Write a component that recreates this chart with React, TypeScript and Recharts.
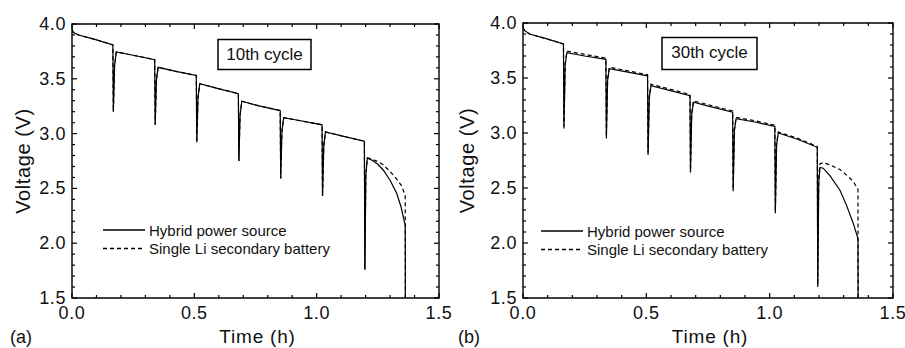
import React from 'react';
import { LineChart, Line, XAxis, YAxis, ReferenceArea, Legend } from 'recharts';

// ---- tick values ----
const xTicks = [0, 0.1, 0.2, 0.3, 0.4, 0.5, 0.6, 0.7, 0.8, 0.9, 1.0, 1.1, 1.2, 1.3, 1.4, 1.5];
const yTicks = [1.5, 1.6, 1.7, 1.8, 1.9, 2.0, 2.1, 2.2, 2.3, 2.4, 2.5, 2.6, 2.7, 2.8, 2.9, 3.0, 3.1, 3.2, 3.3, 3.4, 3.5, 3.6, 3.7, 3.8, 3.9, 4.0];
const seriesNames = ['Hybrid power source', 'Single Li secondary battery'];

// ---- (a) 10th cycle ----
const timeA = [
  0, 0.005, 0.026, 0.09, 0.167,
  0.169, 0.174, 0.181, 0.25, 0.338,
  0.340, 0.345, 0.352, 0.42, 0.508,
  0.510, 0.515, 0.522, 0.59, 0.680,
  0.682, 0.687, 0.694, 0.76, 0.851,
  0.853, 0.858, 0.865, 0.94, 1.022,
  1.024, 1.029, 1.036, 1.11, 1.195,
  1.197, 1.201,
  1.207, 1.22, 1.25, 1.272, 1.30, 1.327, 1.345, 1.362, 1.3625,
];
const hybridA = [
  3.95, 3.925, 3.90, 3.862, 3.81,
  3.20, 3.62, 3.745, 3.715, 3.675,
  3.08, 3.49, 3.605, 3.57, 3.53,
  2.92, 3.33, 3.455, 3.415, 3.365,
  2.75, 3.17, 3.295, 3.255, 3.21,
  2.59, 3.02, 3.145, 3.115, 3.08,
  2.43, 2.89, 3.015, 2.975, 2.93,
  1.76, 2.62,
  2.775, 2.765, 2.72, 2.668, 2.575, 2.455, 2.33, 2.16, 1.5,
];
const singleA = [
  3.95, 3.925, 3.90, 3.862, 3.81,
  3.20, 3.62, 3.745, 3.715, 3.675,
  3.08, 3.49, 3.605, 3.57, 3.53,
  2.92, 3.33, 3.455, 3.415, 3.365,
  2.75, 3.17, 3.295, 3.255, 3.21,
  2.59, 3.02, 3.145, 3.115, 3.08,
  2.43, 2.89, 3.015, 2.975, 2.93,
  1.76, 2.62,
  2.78, 2.772, 2.745, 2.715, 2.655, 2.585, 2.53, 2.44, 1.5,
];

// ---- (b) 30th cycle ----
const timeB = [
  0, 0.005, 0.026, 0.09, 0.164,
  0.166, 0.171, 0.178, 0.25, 0.336,
  0.338, 0.343, 0.350, 0.42, 0.505,
  0.507, 0.512, 0.519, 0.59, 0.677,
  0.679, 0.684, 0.691, 0.76, 0.850,
  0.852, 0.857, 0.864, 0.94, 1.021,
  1.023, 1.028, 1.035, 1.11, 1.193,
  1.195, 1.199,
  1.204, 1.217, 1.245, 1.285, 1.312, 1.339, 1.358, 1.3585,
];
const hybridB = [
  3.96, 3.935, 3.90, 3.86, 3.81,
  3.04, 3.62, 3.73, 3.70, 3.67,
  2.95, 3.48, 3.585, 3.555, 3.52,
  2.80, 3.32, 3.43, 3.39, 3.34,
  2.64, 3.17, 3.28, 3.24, 3.19,
  2.47, 3.02, 3.13, 3.10, 3.06,
  2.27, 2.89, 3.00, 2.945, 2.87,
  1.60, 2.55,
  2.687, 2.68, 2.61, 2.48, 2.34, 2.178, 2.04, 1.5,
];
const singleB = [
  3.96, 3.935, 3.90, 3.86, 3.81,
  3.06, 3.63, 3.745, 3.715, 3.68,
  2.97, 3.49, 3.598, 3.567, 3.53,
  2.82, 3.33, 3.443, 3.402, 3.35,
  2.66, 3.18, 3.292, 3.252, 3.20,
  2.49, 3.03, 3.142, 3.112, 3.07,
  2.29, 2.90, 3.008, 2.955, 2.878,
  1.62, 2.60,
  2.72, 2.73, 2.71, 2.668, 2.617, 2.56, 2.487, 1.5,
];

const FONT = '"Liberation Sans", Arial, Helvetica, sans-serif';

const buildRows = (t: number[], h: number[], s: number[]) =>
  t.map((v, i) => ({ t: v, hybrid: h[i], single: s[i] }));

const isMajor = (v: number) => Math.abs(v * 2 - Math.round(v * 2)) < 1e-6;

const makeXTick = (top: number) => (props: any) => {
  const { x, y, payload } = props;
  const v = payload.value as number;
  const major = isMajor(v);
  const len = major ? 5 : 3;
  return (
    <g>
      <line x1={x} x2={x} y1={y} y2={y - len} stroke="#000" strokeWidth={1.2} />
      <line x1={x} x2={x} y1={top} y2={top + len} stroke="#000" strokeWidth={1.2} />
      {major && (
        <text x={x} y={y + 21} textAnchor="middle" fontSize={18} fontFamily={FONT} letterSpacing={0.6} fill="#111">
          {v.toFixed(1)}
        </text>
      )}
    </g>
  );
};

const makeYTick = (right: number) => (props: any) => {
  const { x, y, payload } = props;
  const v = payload.value as number;
  const major = isMajor(v);
  const len = major ? 5 : 3;
  return (
    <g>
      <line x1={x} x2={x + len} y1={y} y2={y} stroke="#000" strokeWidth={1.2} />
      <line x1={right} x2={right - len} y1={y} y2={y} stroke="#000" strokeWidth={1.2} />
      {major && (
        <text x={x - 6} y={y + 6} textAnchor="end" fontSize={18} fontFamily={FONT} letterSpacing={0.6} fill="#111">
          {v.toFixed(1)}
        </text>
      )}
    </g>
  );
};

type PanelProps = {
  rows: { t: number; hybrid: number; single: number }[];
  width: number;
  plotLeft: number;
  plotRight: number;
  plotTop: number;
  plotBottom: number;
  tag: string;
  cycle: string;
  box: { x: number; y: number; w: number; h: number };
  legend: { x: number; y: number };
  yLabelX: number;
};

const H = 348;

const LegendBox = () => (
  <svg width={260} height={44} style={{ display: 'block', overflow: 'visible' }}>
    <line x1={3} x2={45} y1={12} y2={12} stroke="#000" strokeWidth={1.3} />
    <text x={49} y={17.5} fontSize={15} fontFamily={FONT} fill="#111">{seriesNames[0]}</text>
    <line x1={3} x2={45} y1={30.5} y2={30.5} stroke="#000" strokeWidth={1.3} strokeDasharray="4 3" />
    <text x={49} y={36} fontSize={15} fontFamily={FONT} fill="#111">{seriesNames[1]}</text>
  </svg>
);

const Panel = (p: PanelProps) => {
  const cx = (p.plotLeft + p.plotRight) / 2;
  const cy = (p.plotTop + p.plotBottom) / 2;
  return (
    <div style={{ position: 'relative', width: p.width, height: H }}>
      <LineChart
        width={p.width}
        height={H}
        data={p.rows}
        margin={{ top: p.plotTop, left: 0, right: p.width - p.plotRight, bottom: 0 }}
      >
        <XAxis
          dataKey="t"
          type="number"
          domain={[0, 1.5]}
          ticks={xTicks}
          allowDataOverflow
          height={H - p.plotBottom}
          tickSize={0}
          tickMargin={0}
          axisLine={false}
          tickLine={false}
          interval={0}
          tick={makeXTick(p.plotTop)}
        />
        <YAxis
          type="number"
          domain={[1.5, 4.0]}
          ticks={yTicks}
          allowDataOverflow
          width={p.plotLeft}
          tickSize={0}
          tickMargin={0}
          axisLine={false}
          tickLine={false}
          interval={0}
          tick={makeYTick(p.plotRight)}
        />
        <ReferenceArea x1={0} x2={1.5} y1={1.5} y2={4.0} fill="none" stroke="#000" strokeWidth={1.4} />
        <Legend
          layout="horizontal"
          verticalAlign="middle"
          align="center"
          wrapperStyle={{ position: 'absolute', left: p.legend.x, top: p.legend.y, width: 260, height: 44 }}
          content={() => <LegendBox />}
        />
        <Line dataKey="single" name={seriesNames[1]} type="linear" stroke="#000" strokeWidth={1.2} strokeDasharray="4 3" dot={false} isAnimationActive={false} />
        <Line dataKey="hybrid" name={seriesNames[0]} type="linear" stroke="#000" strokeWidth={1.2} dot={false} isAnimationActive={false} />
      </LineChart>
      <svg width={p.width} height={H} style={{ position: 'absolute', left: 0, top: 0, pointerEvents: 'none' }}>
        <rect x={p.box.x} y={p.box.y} width={p.box.w} height={p.box.h} fill="#fff" stroke="#000" strokeWidth={1.5} />
        <text x={p.box.x + p.box.w / 2} y={p.box.y + 20.5} textAnchor="middle" fontSize={17} fontFamily={FONT} fill="#111">
          {p.cycle}
        </text>
        <text x={cx + 2} y={343} textAnchor="middle" fontSize={19} fontFamily={FONT} letterSpacing={0.8} fill="#111">
          Time (h)
        </text>
        <text
          x={p.yLabelX}
          y={cy}
          textAnchor="middle"
          fontSize={20}
          fontFamily={FONT}
          letterSpacing={0.6}
          fill="#111"
          transform={`rotate(-90 ${p.yLabelX} ${cy})`}
        >
          Voltage (V)
        </text>
        <text x={p.tag === '(a)' ? 10 : 6} y={343} fontSize={18} fontFamily={FONT} fill="#111">
          {p.tag}
        </text>
      </svg>
    </div>
  );
};

export default function App() {
  const rowsA = buildRows(timeA, hybridA, singleA);
  const rowsB = buildRows(timeB, hybridB, singleB);
  return (
    <div style={{ position: 'absolute', left: 0, top: 0, width: 905, height: H, background: '#fff', overflow: 'hidden' }}>
      <div style={{ position: 'absolute', left: 0, top: 0 }}>
        <Panel
          rows={rowsA}
          width={452}
          plotLeft={72}
          plotRight={439}
          plotTop={24}
          plotBottom={298}
          tag="(a)"
          cycle="10th cycle"
          box={{ x: 218, y: 39.5, w: 93, h: 30 }}
          legend={{ x: 100, y: 218 }}
          yLabelX={29.5}
        />
      </div>
      <div style={{ position: 'absolute', left: 452, top: 0 }}>
        <Panel
          rows={rowsB}
          width={453}
          plotLeft={71}
          plotRight={441}
          plotTop={23}
          plotBottom={298}
          tag="(b)"
          cycle="30th cycle"
          box={{ x: 210, y: 37.5, w: 95, h: 32 }}
          legend={{ x: 86, y: 219 }}
          yLabelX={22}
        />
      </div>
    </div>
  );
}
